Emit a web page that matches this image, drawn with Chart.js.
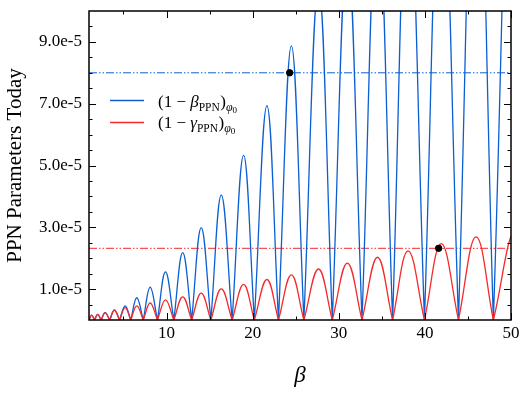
<!DOCTYPE html>
<html>
<head>
<meta charset="utf-8">
<script src="https://cdn.jsdelivr.net/npm/chart.js@4.4.1/dist/chart.umd.min.js"></script>
<style>
    html, body { margin: 0; padding: 0; background: #fff; }
    #wrap { width: 525px; height: 394px; }
</style>
</head>
<body>
<div id="wrap"><canvas id="ppnChart" width="525" height="394"></canvas></div>
<script>
// Values. y is in units of 1e-5.
const archZeros = [1.0, 1.65, 2.42, 3.4, 4.55, 5.85, 7.3, 8.95, 10.85, 12.92, 15.15,
    17.62, 20.2, 23.0, 25.95, 29.25, 32.7, 36.25, 39.95, 43.9, 47.95, 53.2];
const archPeaks = [1.3, 2.0, 2.87, 3.95, 5.2, 6.55, 8.1, 9.88, 11.88, 14.03, 16.36,
    18.95, 21.66, 24.5, 27.65, 31.0, 34.5, 38.05, 41.9, 45.95, 50.6];
const betaPeaks = [0.16, 0.18, 0.24, 0.33, 0.46, 0.72, 1.06, 1.56, 2.18, 2.99, 4.04,
    5.33, 6.94, 8.87, 10.8, 11.9, 13.5, 14.7, 15.7, 17.7, 21.0];
const gammaPeaks = [0.16, 0.18, 0.24, 0.31, 0.40, 0.46, 0.55, 0.65, 0.75, 0.87, 1.01,
    1.15, 1.31, 1.46, 1.65, 1.84, 2.03, 2.24, 2.47, 2.69, 2.92];
const markerX = [24.3, 41.6];
const markerY = [8.0, 2.32];
const betaLevel = 8.0;
const gammaLevel = 2.32;
const xRange = [1, 50];
const yRange = [0, 10];
const xTicks = [10, 20, 30, 40, 50];
const xMinorTicks = [5, 15, 25, 35, 45];
const yTicks = [1, 3, 5, 7, 9];
const yMinorTicks = [0.5, 1.5, 2, 2.5, 3.5, 4, 4.5, 5.5, 6, 6.5, 7.5, 8, 8.5, 9.5];
const seriesSymbols = ['β', 'γ'];

const BLUE = '#0b5fd3';
const RED = '#f42a2a';
const SERIF = '"Liberation Serif", "DejaVu Serif", serif';

function archPoints(peaks) {
    const pts = [];
    for (let i = 0; i < archPeaks.length; i++) {
        // zero listed twice so the spline keeps a sharp cusp there
        pts.push({x: archZeros[i], y: 0}, {x: archZeros[i], y: 0});
        pts.push({x: archPeaks[i], y: peaks[i]});
    }
    pts.push({x: archZeros[archZeros.length - 1], y: 0});
    return pts;
}

function levelPoints(level) {
    return [{x: xRange[0], y: level}, {x: xRange[1], y: level}];
}

// inside ticks on all four sides, plus the frame
const frameTicks = {
    id: 'frameTicks',
    afterDraw(chart) {
        const {ctx, chartArea: a, scales: {x, y}} = chart;
        ctx.save();
        ctx.strokeStyle = '#000';
        ctx.lineWidth = 1;
        const tick = (vals, len, horiz) => {
            vals.forEach(v => {
                ctx.beginPath();
                if (horiz) {
                    const px = Math.round(x.getPixelForValue(v)) + 0.5;
                    ctx.moveTo(px, a.bottom); ctx.lineTo(px, a.bottom - len);
                    ctx.moveTo(px, a.top); ctx.lineTo(px, a.top + len);
                } else {
                    const py = Math.round(y.getPixelForValue(v)) + 0.5;
                    ctx.moveTo(a.left, py); ctx.lineTo(a.left + len, py);
                    ctx.moveTo(a.right, py); ctx.lineTo(a.right - len, py);
                }
                ctx.stroke();
            });
        };
        tick(xTicks, 7, true);
        tick(xMinorTicks, 3.5, true);
        tick(yTicks, 7, false);
        tick(yMinorTicks, 3.5, false);
        ctx.lineWidth = 1.5;
        ctx.strokeRect(a.left, a.top, a.right - a.left, a.bottom - a.top);
        ctx.restore();
    }
};

// legend with subscripts, drawn as text pieces
const mathLegend = {
    id: 'mathLegend',
    afterDraw(chart) {
        const {ctx, chartArea: a} = chart;
        const colors = [BLUE, RED];
        ctx.save();
        ctx.textBaseline = 'alphabetic';
        seriesSymbols.forEach((sym, i) => {
            const lineY = a.top + 89.5 + i * 22;
            ctx.strokeStyle = colors[i];
            ctx.lineWidth = 1.3;
            ctx.beginPath();
            ctx.moveTo(a.left + 21, lineY);
            ctx.lineTo(a.left + 55, lineY);
            ctx.stroke();

            const base = a.top + 96 + i * 21;
            const pieces = [
                ['(1 − ', '17px', '', 0],
                [sym, '17px', 'italic ', 0],
                ['PPN', '11.5px', '', 3.5],
                [')', '17px', '', 0],
                ['φ', '12px', 'italic ', 4],
                ['0', '9px', '', 5.5]
            ];
            let tx = a.left + 69;
            ctx.fillStyle = '#000';
            pieces.forEach(([txt, size, style, dy]) => {
                ctx.font = style + size + ' ' + SERIF;
                ctx.fillText(txt, tx, base + dy);
                tx += ctx.measureText(txt).width + (txt === 'PPN' ? 0.5 : 0);
            });
        });
        ctx.restore();
    }
};

const ctx = document.getElementById('ppnChart').getContext('2d');
new Chart(ctx, {
    type: 'line',
    data: {
        datasets: [{
            type: 'scatter',
            data: markerX.map((v, i) => ({x: v, y: markerY[i]})),
            backgroundColor: '#000',
            borderColor: '#000',
            pointRadius: 3.2,
            order: 0
        }, {
            label: '(1-beta)',
            data: archPoints(betaPeaks),
            borderColor: BLUE,
            borderWidth: 1.3,
            pointRadius: 0,
            tension: 0.4,
            order: 2
        }, {
            label: '(1-gamma)',
            data: archPoints(gammaPeaks),
            borderColor: RED,
            borderWidth: 1.3,
            pointRadius: 0,
            tension: 0.4,
            order: 1
        }, {
            data: levelPoints(betaLevel),
            borderColor: BLUE,
            borderWidth: 1,
            borderDash: [8, 2, 1.5, 2, 1.5, 2],
            pointRadius: 0,
            order: 3
        }, {
            data: levelPoints(gammaLevel),
            borderColor: RED,
            borderWidth: 1,
            borderDash: [8, 2, 1.5, 2, 1.5, 2],
            pointRadius: 0,
            order: 3
        }]
    },
    options: {
        responsive: false,
        animation: false,
        layout: { padding: { left: 0, right: 14, top: 11, bottom: 0 } },
        plugins: {
            legend: { display: false },
            tooltip: { enabled: false }
        },
        scales: {
            x: {
                type: 'linear',
                min: xRange[0],
                max: xRange[1],
                grid: { display: false, drawTicks: false },
                border: { display: false },
                afterBuildTicks: s => { s.ticks = xTicks.map(v => ({value: v})); },
                afterFit: s => { s.height = 74; s.paddingLeft = 0; s.paddingRight = 0; },
                ticks: {
                    padding: 3,
                    color: '#000',
                    font: { family: SERIF, size: 17 }
                },
                title: {
                    display: true,
                    text: 'β',
                    color: '#000',
                    font: { family: SERIF, size: 23, style: 'italic' },
                    padding: { top: 0, bottom: 4 }
                }
            },
            y: {
                min: yRange[0],
                max: yRange[1],
                grid: { display: false, drawTicks: false },
                border: { display: false },
                afterBuildTicks: s => { s.ticks = yTicks.map(v => ({value: v})); },
                afterFit: s => { s.width = 89; s.paddingTop = 0; s.paddingBottom = 0; },
                ticks: {
                    padding: 7,
                    color: '#000',
                    font: { family: SERIF, size: 17 },
                    callback: v => v.toFixed(1) + 'e-5'
                },
                title: {
                    display: true,
                    text: 'PPN Parameters Today',
                    color: '#000',
                    font: { family: SERIF, size: 21 },
                    padding: { top: 3, bottom: 0 }
                }
            }
        }
    },
    plugins: [frameTicks, mathLegend]
});
</script>
</body>
</html>
